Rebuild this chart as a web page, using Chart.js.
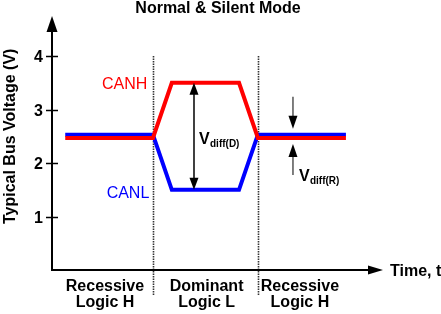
<!DOCTYPE html>
<html><head><meta charset="utf-8">
<script src="https://cdn.jsdelivr.net/npm/chart.js@4/dist/chart.umd.min.js"></script>
<style>html,body{margin:0;padding:0;background:#fff;overflow:hidden}#wrap{width:441px;height:314px}</style>
</head><body><div id="wrap"><canvas id="c" width="441" height="314"></canvas></div>
<script>
// ---- data ----
const chartTitle = "Normal & Silent Mode";
const yAxisTitle = "Typical Bus Voltage (V)";
const xAxisTitle = "Time, t";
const yTickValues = [1, 2, 3, 4];
const timePoints = [0.4, 3.05, 3.62, 5.65, 6.22, 8.88];
const canhValues = [2.47, 2.47, 3.5, 3.5, 2.47, 2.47];
const canlValues = [2.53, 2.53, 1.5, 1.5, 2.53, 2.53];
const phaseBoundaries = [3.05, 6.22];
const phaseCenters = [1.6, 4.67, 7.49];
const phaseLabels = [["Recessive", "Logic H"], ["Dominant", "Logic L"], ["Recessive", "Logic H"]];
const seriesNames = ["CANH", "CANL"];
const vdiffDominant = [3.5, 1.5];
const vdiffRecessive = [2.53, 2.47];

const FONT = '"Liberation Sans", Arial, Helvetica, sans-serif';

function arrowHead(ctx, tipX, tipY, dirX, dirY, len, halfW, color) {
  const bx = tipX - dirX * len, by = tipY - dirY * len;
  const px = -dirY, py = dirX;
  ctx.fillStyle = color;
  ctx.beginPath();
  ctx.moveTo(tipX, tipY);
  ctx.lineTo(bx + px * halfW, by + py * halfW);
  ctx.lineTo(bx - px * halfW, by - py * halfW);
  ctx.closePath();
  ctx.fill();
}

const decor = {
  id: 'decor',
  beforeDatasetsDraw(chart) {
    const ctx = chart.ctx, xs = chart.scales.x, ys = chart.scales.y, ca = chart.chartArea;
    ctx.save();
    // dotted phase separators
    ctx.strokeStyle = '#333';
    ctx.lineWidth = 1.6;
    ctx.setLineDash([1.5, 1]);
    phaseBoundaries.forEach(t => {
      const x = Math.round(xs.getPixelForValue(t)) + 0.5;
      ctx.beginPath();
      ctx.moveTo(x, ys.getPixelForValue(4.0));
      ctx.lineTo(x, ca.bottom + 25);
      ctx.stroke();
    });
    ctx.setLineDash([]);
    // axes
    const x0 = xs.getPixelForValue(0), y0 = ys.getPixelForValue(0);
    ctx.strokeStyle = '#000';
    ctx.lineWidth = 2;
    ctx.beginPath();
    ctx.moveTo(x0, y0);
    ctx.lineTo(x0, ca.top + 14);
    ctx.moveTo(x0 - 1, y0);
    ctx.lineTo(ca.right - 12, y0);
    ctx.stroke();
    arrowHead(ctx, x0, ca.top, 0, -1, 16, 5.5, '#000');
    arrowHead(ctx, ca.right, y0, 1, 0, 15, 4.5, '#000');
    // y ticks
    ctx.lineWidth = 1.5;
    ctx.font = 'bold 16px ' + FONT;
    ctx.fillStyle = '#000';
    ctx.textAlign = 'right';
    ctx.textBaseline = 'middle';
    yTickValues.forEach(v => {
      const y = Math.round(ys.getPixelForValue(v)) + 0.5;
      ctx.beginPath();
      ctx.moveTo(x0 - 6, y);
      ctx.lineTo(x0 + 6, y);
      ctx.stroke();
      ctx.fillText(String(v), x0 - 9, y + 1);
    });
    ctx.restore();
  },
  afterDatasetsDraw(chart) {
    const ctx = chart.ctx, xs = chart.scales.x, ys = chart.scales.y, ca = chart.chartArea;
    ctx.save();
    // title
    ctx.fillStyle = '#000';
    ctx.font = 'bold 16px ' + FONT;
    ctx.textAlign = 'center';
    ctx.textBaseline = 'alphabetic';
    ctx.fillText(chartTitle, 218, 13);
    // y axis title
    ctx.save();
    ctx.translate(15, ys.getPixelForValue(2.5));
    ctx.rotate(-Math.PI / 2);
    ctx.textAlign = 'center';
    ctx.fillText(yAxisTitle, 0, 0);
    ctx.restore();
    // x axis title
    ctx.font = 'bold 16px ' + FONT;
    ctx.textAlign = 'left';
    ctx.fillText(xAxisTitle, ca.right + 7, ys.getPixelForValue(0) + 6);
    // phase labels
    ctx.font = 'bold 16px ' + FONT;
    ctx.textAlign = 'center';
    phaseLabels.forEach((lines, i) => {
      const x = xs.getPixelForValue(phaseCenters[i]);
      ctx.fillText(lines[0], x, ca.bottom + 21);
      ctx.fillText(lines[1], x, ca.bottom + 37);
    });
    // series labels
    ctx.font = '16px ' + FONT;
    ctx.textAlign = 'right';
    ctx.fillStyle = '#ff0000';
    ctx.fillText(seriesNames[0], xs.getPixelForValue(2.88), ys.getPixelForValue(3.5) + 6);
    ctx.fillStyle = '#0000ff';
    ctx.fillText(seriesNames[1], xs.getPixelForValue(2.94), ys.getPixelForValue(1.5) + 8);
    // Vdiff(D) double arrow
    const xd = xs.getPixelForValue(4.29);
    const yTop = ys.getPixelForValue(vdiffDominant[0]);
    const yBot = ys.getPixelForValue(vdiffDominant[1]);
    ctx.strokeStyle = '#000';
    ctx.lineWidth = 1.5;
    ctx.beginPath();
    ctx.moveTo(xd, yTop + 8);
    ctx.lineTo(xd, yBot - 8);
    ctx.stroke();
    arrowHead(ctx, xd, yTop, 0, -1, 12, 4.5, '#000');
    arrowHead(ctx, xd, yBot, 0, 1, 12, 4.5, '#000');
    ctx.fillStyle = '#000';
    ctx.textAlign = 'left';
    ctx.font = 'bold 16px ' + FONT;
    ctx.fillText('V', xd + 5, ys.getPixelForValue(2.5) + 8);
    ctx.font = 'bold 10px ' + FONT;
    ctx.fillText('diff(D)', xd + 16, ys.getPixelForValue(2.5) + 11);
    // Vdiff(R) converging arrows
    const xr = xs.getPixelForValue(7.28);
    const rTop = ys.getPixelForValue(vdiffRecessive[0]) - 6;
    const rBot = ys.getPixelForValue(vdiffRecessive[1]) + 6;
    ctx.strokeStyle = '#555';
    ctx.beginPath();
    ctx.moveTo(xr, rTop - 32);
    ctx.lineTo(xr, rTop - 8);
    ctx.moveTo(xr, rBot + 8);
    ctx.lineTo(xr, rBot + 31);
    ctx.stroke();
    arrowHead(ctx, xr, rTop, 0, 1, 13, 4.5, '#000');
    arrowHead(ctx, xr, rBot, 0, -1, 13, 4.5, '#000');
    ctx.fillStyle = '#000';
    ctx.font = 'bold 16px ' + FONT;
    ctx.fillText('V', xr + 6, rBot + 37);
    ctx.font = 'bold 10px ' + FONT;
    ctx.fillText('diff(R)', xr + 17, rBot + 40);
    ctx.restore();
  }
};

new Chart(document.getElementById('c'), {
  type: 'line',
  data: {
    datasets: [
      {
        label: seriesNames[0],
        data: timePoints.map((t, i) => ({ x: t, y: canhValues[i] })),
        borderColor: '#ff0000',
        borderWidth: 4,
        pointRadius: 0,
        tension: 0,
        fill: false,
        order: 0
      },
      {
        label: seriesNames[1],
        data: timePoints.map((t, i) => ({ x: t, y: canlValues[i] })),
        borderColor: '#0000ff',
        borderWidth: 4,
        pointRadius: 0,
        tension: 0,
        fill: false,
        order: 1
      }
    ]
  },
  options: {
    responsive: false,
    animation: false,
    events: [],
    layout: { padding: { left: 52, right: 58, top: 16, bottom: 44 } },
    scales: {
      x: { type: 'linear', min: 0, max: 10, display: false },
      y: { type: 'linear', min: 0, max: 4.75, display: false }
    },
    plugins: { legend: { display: false }, tooltip: { enabled: false }, title: { display: false } }
  },
  plugins: [decor]
});
</script>
</body></html>
